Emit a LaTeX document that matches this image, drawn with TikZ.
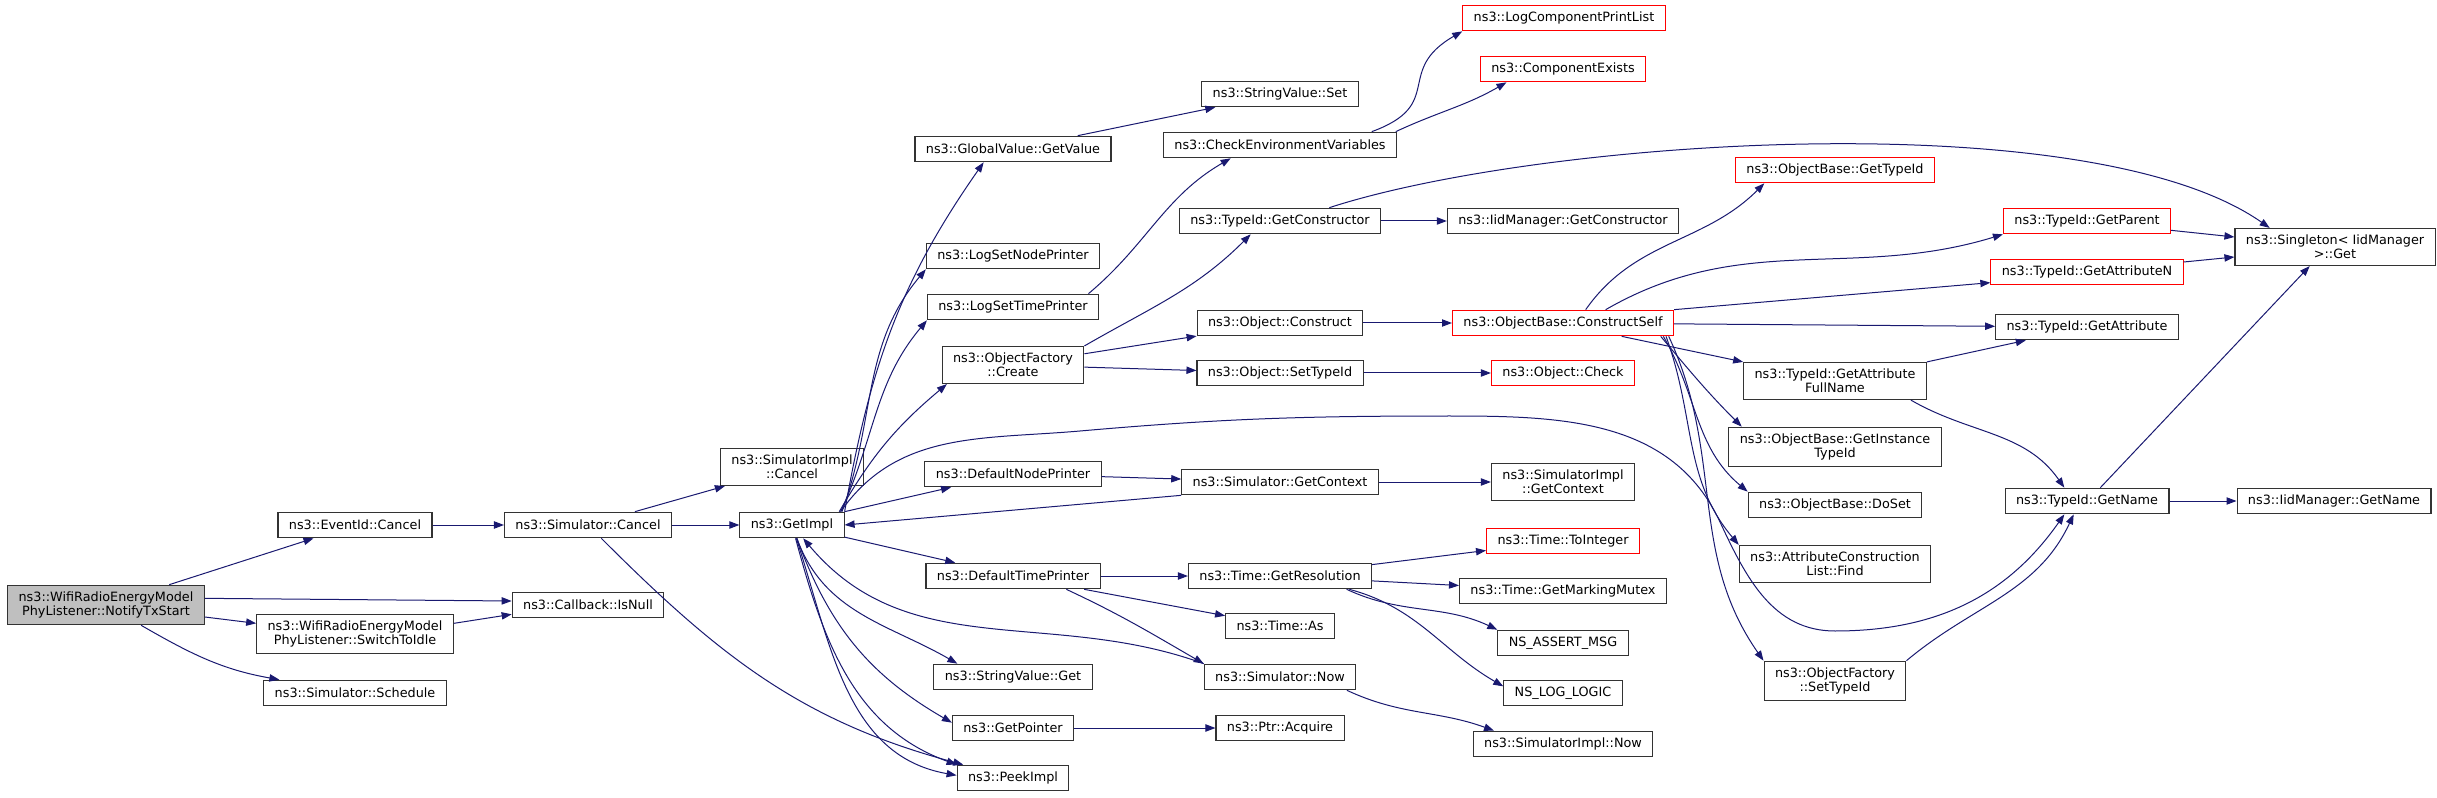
\documentclass[tikz,border=0pt]{standalone}
\usepackage{fontspec}
\setmainfont{DejaVu Sans}
\usetikzlibrary{arrows.meta}
\definecolor{edgeblue}{HTML}{191970}
\definecolor{rootgray}{HTML}{BFBFBF}
\tikzset{
  fn/.style={draw=black!80, line width=0.8pt, rectangle, align=center, inner xsep=8.2pt, inner ysep=4.8pt, minimum height=19.2pt, font=\fontsize{9.6}{10.8}\selectfont},
  fnred/.style={fn, draw=red},
  fnroot/.style={fn, fill=rootgray},
  call/.style={draw=edgeblue, line width=0.75pt, -{Triangle[length=7.5pt,width=5.5pt]}}
}
\begin{document}
\begin{tikzpicture}[x=0.75pt,y=0.75pt]
        \useasboundingbox (0,0) rectangle (2437,797);

        \node[fnroot] (notifytx) at (106,192) {ns3::WifiRadioEnergyModel\\PhyListener::NotifyTxStart};
        \node[fn] (evcancel) at (355,272) {ns3::EventId::Cancel};
        \node[fn] (switchidle) at (355,163) {ns3::WifiRadioEnergyModel\\PhyListener::SwitchToIdle};
        \node[fn] (schedule) at (355,104) {ns3::Simulator::Schedule};
        \node[fn] (simcancel) at (588,272) {ns3::Simulator::Cancel};
        \node[fn] (isnull) at (588,192) {ns3::Callback::IsNull};
        \node[fn] (implcancel) at (792,330) {ns3::SimulatorImpl\\::Cancel};
        \node[fn] (getimpl) at (792,272) {ns3::GetImpl};

        \node[fn] (getvalue) at (1013,648) {ns3::GlobalValue::GetValue};
        \node[fn] (nodeprinter) at (1013,541) {ns3::LogSetNodePrinter};
        \node[fn] (timeprinter) at (1013,490) {ns3::LogSetTimePrinter};
        \node[fn] (ofcreate) at (1013,432) {ns3::ObjectFactory\\::Create};
        \node[fn] (defnode) at (1013,323) {ns3::DefaultNodePrinter};
        \node[fn] (deftime) at (1013,221) {ns3::DefaultTimePrinter};
        \node[fn] (svget) at (1013,120) {ns3::StringValue::Get};
        \node[fn] (getptr) at (1013,69) {ns3::GetPointer};
        \node[fn] (peekimpl) at (1013,19) {ns3::PeekImpl};

        \node[fn] (svset) at (1280,703) {ns3::StringValue::Set};
        \node[fn] (checkenv) at (1280,652) {ns3::CheckEnvironmentVariables};
        \node[fn] (getcons) at (1280,576) {ns3::TypeId::GetConstructor};
        \node[fn] (construct) at (1280,474) {ns3::Object::Construct};
        \node[fn] (settid) at (1280,424) {ns3::Object::SetTypeId};
        \node[fn] (simctx) at (1280,315) {ns3::Simulator::GetContext};
        \node[fn] (getres) at (1280,221) {ns3::Time::GetResolution};
        \node[fn] (timeas) at (1280,171) {ns3::Time::As};
        \node[fn] (simnow) at (1280,120) {ns3::Simulator::Now};
        \node[fn] (acquire) at (1280,69) {ns3::Ptr::Acquire};

        \node[fnred] (printlist) at (1564,779) {ns3::LogComponentPrintList};
        \node[fnred] (compexists) at (1563,728) {ns3::ComponentExists};
        \node[fn] (iidcons) at (1563,576) {ns3::IidManager::GetConstructor};
        \node[fnred] (constself) at (1563,474) {ns3::ObjectBase::ConstructSelf};
        \node[fnred] (objcheck) at (1563,424) {ns3::Object::Check};
        \node[fn] (implctx) at (1563,315) {ns3::SimulatorImpl\\::GetContext};
        \node[fnred] (tointeger) at (1563,256) {ns3::Time::ToInteger};
        \node[fn] (mutex) at (1563,206) {ns3::Time::GetMarkingMutex};
        \node[fn] (assertmsg) at (1563,154) {NS\_ASSERT\_MSG};
        \node[fn] (loglogic) at (1563,104) {NS\_LOG\_LOGIC};
        \node[fn] (implnow) at (1563,53) {ns3::SimulatorImpl::Now};

        \node[fnred] (obtypeid) at (1835,627) {ns3::ObjectBase::GetTypeId};
        \node[fn] (attrfull) at (1835,416) {ns3::TypeId::GetAttribute\\FullName};
        \node[fn] (insttid) at (1835,350) {ns3::ObjectBase::GetInstance\\TypeId};
        \node[fn] (doset) at (1835,292) {ns3::ObjectBase::DoSet};
        \node[fn] (aclfind) at (1835,233) {ns3::AttributeConstruction\\List::Find};
        \node[fn] (ofsettid) at (1835,116) {ns3::ObjectFactory\\::SetTypeId};

        \node[fnred] (getparent) at (2087,576) {ns3::TypeId::GetParent};
        \node[fnred] (getattrn) at (2087,525) {ns3::TypeId::GetAttributeN};
        \node[fn] (getattr) at (2087,470) {ns3::TypeId::GetAttribute};
        \node[fn] (getname) at (2087,296) {ns3::TypeId::GetName};
        \node[fn] (singleton) at (2335,550) {ns3::Singleton< IidManager\\>::Get};
        \node[fn] (iidname) at (2334,296) {ns3::IidManager::GetName};

        \draw[call] (notifytx) -- (evcancel);
        \draw[call] ([yshift=5pt]notifytx.east) -- ([yshift=3pt]isnull.west);
        \draw[call] ([yshift=-9pt]notifytx.east) -- ([yshift=8pt]switchidle.west);
        \draw[call] (notifytx) to[out=-30,in=170] (schedule);
        \draw[call] ([yshift=8pt]switchidle.east) -- ([yshift=-7pt]isnull.west);
        \draw[call] (evcancel) -- (simcancel);
        \draw[call] (simcancel) -- (implcancel);
        \draw[call] (simcancel) -- (getimpl);
        \draw[call] (simcancel) to[out=-45,in=165] (peekimpl);

        \draw[call] (getimpl.north east) to[out=80,in=235] ([xshift=-22pt]getvalue.south);
        \draw[call] ([xshift=-2pt]getimpl.north east) to[out=70,in=230] (nodeprinter.south west);
        \draw[call] ([xshift=-3pt]getimpl.north east) to[out=65,in=230] (timeprinter.south west);
        \draw[call] ([xshift=-4pt]getimpl.north east) to[out=60,in=220] ([xshift=4pt]ofcreate.south west);
        \draw[call] ([xshift=-3pt]getimpl.north east) to[out=55,in=185] (1080,366) to[out=5,in=180] (1450,381) to[out=0,in=115] (1720,275) to[out=-65,in=180] (1835,166) to[out=0,in=235] ([xshift=-17pt]getname.south);
        \draw[call] (getimpl.north east) -- ([xshift=20pt]defnode.south west);
        \draw[call] (simctx.south west) -- (getimpl.east);
        \draw[call] (defnode) -- (simctx);
        \draw[call] (getimpl) -- (deftime);
        \draw[call] (getimpl) to[out=-70,in=150] ([xshift=18pt]svget.north west);
        \draw[call] (getimpl) to[out=-70,in=150] ([yshift=4pt]getptr.west);
        \draw[call] (getimpl) to[out=-75,in=160] (peekimpl.north west);
        \draw[call] (getimpl) to[out=-72,in=170] ([yshift=2pt]peekimpl.west);
        \draw[call] (simnow.north west) to[out=160,in=-50] (getimpl);

        \draw[call] (deftime) -- (getres);
        \draw[call] (deftime) -- (timeas);
        \draw[call] ([xshift=40pt]deftime.south) to[out=-25,in=150] (simnow.north west);
        \draw[call] ([xshift=-7pt]simnow.south east) to[out=-25,in=160] ([xshift=16pt]implnow.north west);
        \draw[call] (getptr) -- (acquire);
        \draw[call] (getres) -- (tointeger);
        \draw[call] (getres) -- (mutex);
        \draw[call] ([xshift=50pt]getres.south) to[out=-25,in=155] (assertmsg.north west);
        \draw[call] ([xshift=52pt]getres.south) to[out=-15,in=150] ([yshift=5pt]loglogic.west);

        \draw[call] (getvalue) -- (svset);
        \draw[call] ([xshift=-8pt]timeprinter.north east) to[out=40,in=210] ([xshift=-37pt]checkenv.south);
        \draw[call] ([xshift=-19pt]checkenv.north east) to[out=20,in=210,looseness=1.5] (printlist.south west);
        \draw[call] ([xshift=-1pt]checkenv.north east) to[out=25,in=210] ([xshift=20pt]compexists.south west);
        \draw[call] (ofcreate.north east) to[out=30,in=225] ([xshift=-22pt]getcons.south);
        \draw[call] (ofcreate) -- (construct);
        \draw[call] (ofcreate) -- (settid);
        \draw[call] (getcons) -- (iidcons);
        \draw[call] ([xshift=37pt]getcons.north) to[out=18,in=145,looseness=0.6] ([xshift=-49pt]singleton.north);
        \draw[call] (construct) -- (constself);
        \draw[call] (settid) -- (objcheck);
        \draw[call] (simctx) -- (implctx);

        \draw[call] ([xshift=17pt]constself.north) to[out=55,in=225] ([xshift=22pt]obtypeid.south west);
        \draw[call] ([xshift=32pt]constself.north) to[out=30,in=197] (getparent.south west);
        \draw[call] (constself.north east) -- ([yshift=-8pt]getattrn.west);
        \draw[call] (constself) -- (getattr);
        \draw[call] ([xshift=44pt]constself.south) -- (attrfull.north west);
        \draw[call] ([xshift=-10pt]constself.south east) to[out=-50,in=135] ([xshift=10pt]insttid.north west);
        \draw[call] ([xshift=-8pt]constself.south east) to[out=-60,in=140] (doset.north west);
        \draw[call] ([xshift=-6pt]constself.south east) to[out=-70,in=130] (aclfind.north west);
        \draw[call] ([xshift=-4pt]constself.south east) to[out=-65,in=125] (ofsettid.north west);

        \draw[call] (attrfull.north east) -- ([xshift=23pt]getattr.south west);
        \draw[call] ([xshift=-12pt]attrfull.south east) to[out=-30,in=125] ([xshift=-17pt]getname.north);
        \draw[call] (ofsettid.north east) to[out=40,in=245] ([xshift=-10pt]getname.south);
        \draw[call] ([xshift=10pt]getname.north) -- ([xshift=-19pt]singleton.south);
        \draw[call] (getname) -- (iidname);
        \draw[call] ([yshift=-7pt]getparent.east) -- ([yshift=7.5pt]singleton.west);
        \draw[call] ([yshift=7.5pt]getattrn.east) -- ([yshift=-7.5pt]singleton.west);

\end{tikzpicture}
\end{document}
